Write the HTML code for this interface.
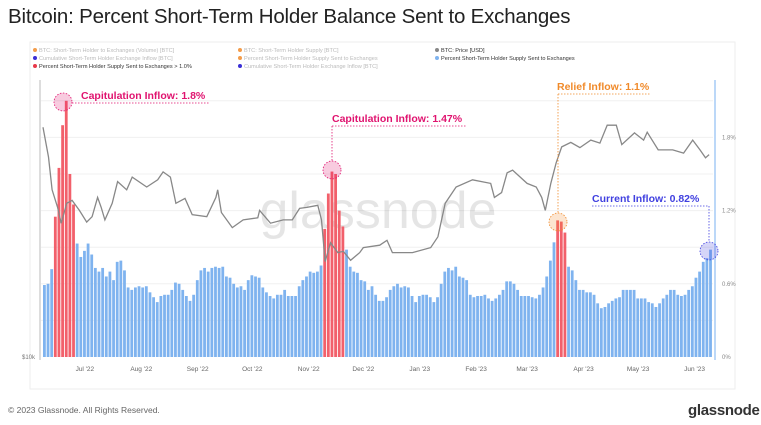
<!DOCTYPE html>
<html><head><meta charset="utf-8">
<style>
body{margin:0;background:#fff;width:761px;height:425px;overflow:hidden;font-family:"Liberation Sans",sans-serif;}
#title{position:absolute;left:8px;top:5px;font-size:20.5px;color:#222;letter-spacing:-0.2px;}
#foot{position:absolute;left:8px;top:405px;font-size:8.5px;color:#666;}
#logo{position:absolute;left:688px;top:402px;font-size:15px;font-weight:bold;color:#333;letter-spacing:-0.3px;}
svg{position:absolute;left:0;top:0;}
</style></head><body>
<div id="title">Bitcoin: Percent Short-Term Holder Balance Sent to Exchanges</div>
<div id="foot">© 2023 Glassnode. All Rights Reserved.</div>
<div id="logo">glassnode</div>
<svg id="chart" width="761" height="425"></svg>
<script>
const barVals=[0.59,0.6,0.72,1.15,1.55,1.9,2.1,1.5,1.25,0.93,0.82,0.87,0.93,0.84,0.73,0.70,0.73,0.66,0.70,0.63,0.78,0.79,0.71,0.57,0.55,0.57,0.58,0.57,0.58,0.53,0.49,0.45,0.50,0.51,0.51,0.55,0.61,0.60,0.55,0.50,0.46,0.51,0.63,0.71,0.73,0.70,0.73,0.74,0.73,0.74,0.66,0.65,0.60,0.57,0.58,0.55,0.63,0.67,0.66,0.65,0.57,0.53,0.50,0.48,0.51,0.51,0.55,0.50,0.50,0.50,0.58,0.63,0.66,0.70,0.69,0.70,0.75,1.05,1.34,1.52,1.5,1.2,1.07,0.88,0.74,0.70,0.69,0.63,0.62,0.55,0.58,0.51,0.46,0.46,0.49,0.55,0.58,0.60,0.57,0.58,0.57,0.50,0.45,0.50,0.51,0.51,0.49,0.45,0.49,0.60,0.70,0.73,0.71,0.74,0.66,0.65,0.63,0.51,0.49,0.50,0.50,0.51,0.48,0.46,0.48,0.51,0.55,0.62,0.62,0.60,0.55,0.50,0.50,0.50,0.49,0.48,0.51,0.57,0.66,0.79,0.94,1.12,1.11,1.02,0.74,0.71,0.63,0.55,0.55,0.53,0.53,0.51,0.44,0.40,0.41,0.44,0.46,0.48,0.49,0.55,0.55,0.55,0.55,0.48,0.48,0.48,0.45,0.44,0.41,0.44,0.48,0.51,0.55,0.55,0.51,0.50,0.51,0.55,0.58,0.65,0.70,0.78,0.81,0.88];
const priceDays=[0,3,5,8,10,13,16,20,24,27,30,32,34,38,41,46,49,57,63,66,70,73,78,82,90,95,96,98,104,110,118,119,125,132,137,141,145,151,153,155,158,162,165,169,174,176,185,189,192,203,213,217,221,227,236,246,248,252,255,258,266,271,274,276,279,282,285,290,295,301,306,310,315,318,325,330,332,338,346,352,357,361,364,366];
const priceVals=[30.1,26.1,22.3,20.5,19.0,20.9,21.2,20.2,19.1,19.6,21.5,20.5,19.3,20.9,23.2,22.3,23.7,22.6,23.4,24.3,23.7,20.9,21.4,19.8,19.6,21.5,22.3,20.0,18.6,19.3,19.5,20.2,19.0,19.3,19.3,20.4,20.5,20.7,19.3,15.8,17.3,16.5,16.6,15.9,16.5,16.9,17.1,17.5,16.5,16.5,16.9,17.8,20.9,22.6,23.4,23.0,21.5,22.0,24.2,24.5,23.0,22.6,21.5,20.2,23.0,25.4,27.4,28.0,27.3,28.3,27.9,30.4,30.4,27.7,29.3,28.3,29.4,27.0,27.0,26.6,28.3,27.0,26.0,26.4];
const monthLabels=["Jul '22","Aug '22","Sep '22","Oct '22","Nov '22","Dec '22","Jan '23","Feb '23","Mar '23","Apr '23","May '23","Jun '23"];
const monthDays=[23,54,85,115,146,176,207,238,266,297,327,358];
const pctTicks=[0,0.6,1.2,1.8];
const pctTickLabels=["0%","0.6%","1.2%","1.8%"];

const NS="http://www.w3.org/2000/svg";
const svg=document.getElementById('chart');
const X=d=>43+d*1.82;
const Yp=v=>357-v*122;
const Yprice=p=>357-480*Math.log10(p/10);
function mk(tag,attrs,parent){const e=document.createElementNS(NS,tag);for(const k in attrs)e.setAttribute(k,attrs[k]);(parent||svg).appendChild(e);return e;}

let e=mk('rect',{x:30,y:42,width:705,height:347,fill:'none',stroke:'#eee'});

for(let v=0.3;v<2.2;v+=0.3){e=mk('line',{x1:41,x2:713,y1:Yp(v),y2:Yp(v),stroke:'#f0f0f0'});
}
e=mk('text',{x:378,y:228,'font-size':52,'text-anchor':'middle',fill:'#000','fill-opacity':0.1,'font-family':'Liberation Sans, sans-serif'});e.textContent='glassnode';

barVals.forEach((v,i)=>{const x=X(i*2);
 const b=mk('rect',{x:x,y:Yp(v),width:2.8,height:357-Yp(v),fill:v>1.0?'#f2606b':'#7fb3ef'});
 
 });
let d='';priceDays.forEach((dd,i)=>{d+=(i?'L':'M')+X(dd).toFixed(1)+','+Yprice(priceVals[i]).toFixed(1);});
e=mk('path',{d:d,fill:'none',stroke:'#888','stroke-width':1.3});

e=mk('line',{x1:40,x2:40,y1:80,y2:360,stroke:'#bbb'});

e=mk('line',{x1:715,x2:715,y1:80,y2:360,stroke:'#8fbdf2','stroke-width':1.2});

e=mk('text',{x:22,y:359,'font-size':6,fill:'#777'});e.textContent='$10k';

pctTicks.forEach((v,i)=>{const t=mk('text',{x:722,y:Yp(v)+2,'font-size':6,fill:'#888'});t.textContent=pctTickLabels[i];
 });
monthDays.forEach((dd,i)=>{const t=mk('text',{x:X(dd),y:371,'font-size':6.5,fill:'#666','text-anchor':'middle'});t.textContent=monthLabels[i];
 });
const leg=[[35,52,'#f39c4a','BTC: Short-Term Holder to Exchanges (Volume) [BTC]','#bbb'],[35,60,'#3a2fd6','Cumulative Short-Term Holder Exchange Inflow [BTC]','#bbb'],[35,68,'#e8394a','Percent Short-Term Holder Supply Sent to Exchanges > 1.0%','#333'],
[240,52,'#f39c4a','BTC: Short-Term Holder Supply [BTC]','#bbb'],[240,60,'#f39c4a','Percent Short-Term Holder Supply Sent to Exchanges','#bbb'],[240,68,'#3a2fd6','Cumulative Short-Term Holder Exchange Inflow [BTC]','#bbb'],
[437,52,'#888','BTC: Price [USD]','#333'],[437,60,'#7fb3ef','Percent Short-Term Holder Supply Sent to Exchanges','#333']];
leg.forEach(l=>{const c=mk('circle',{cx:l[0],cy:l[1]-2,r:2,fill:l[2]});
 
 const t=mk('text',{x:l[0]+4,y:l[1],'font-size':5.6,fill:l[4]});t.textContent=l[3];
 });
function ann(name,col,cx,cy,lx,ly,txt,hx1,hx2,hy,vx){
 const g=mk('g',{});
 mk('circle',{cx:cx,cy:cy,r:9,fill:col,'fill-opacity':0.22,stroke:col,'stroke-dasharray':'1.5,1.5','stroke-width':0.8},g);
 mk('line',{x1:hx1,x2:hx2,y1:hy,y2:hy,stroke:col,'stroke-dasharray':'1.5,1.5','stroke-width':0.8},g);
 if(vx!=null)mk('line',{x1:vx,x2:vx,y1:hy,y2:cy-9,stroke:col,'stroke-dasharray':'1.5,1.5','stroke-width':0.8},g);
 const t=mk('text',{x:lx,y:ly,'font-size':10.5,'font-weight':'bold',fill:col},g);t.textContent=txt;}
ann('annotation-capitulation-1','#e0136f',63,102,81,99,'Capitulation Inflow: 1.8%',72,210,103,null);
ann('annotation-capitulation-2','#e0136f',332,170,332,122,'Capitulation Inflow: 1.47%',332,466,126,332);
ann('annotation-relief','#f08a2a',558,222,557,90,'Relief Inflow: 1.1%',558,650,94,558);
ann('annotation-current','#4040e0',709,251,592,202,'Current Inflow: 0.82%',592,709,206,709);
</script>
</body></html>
